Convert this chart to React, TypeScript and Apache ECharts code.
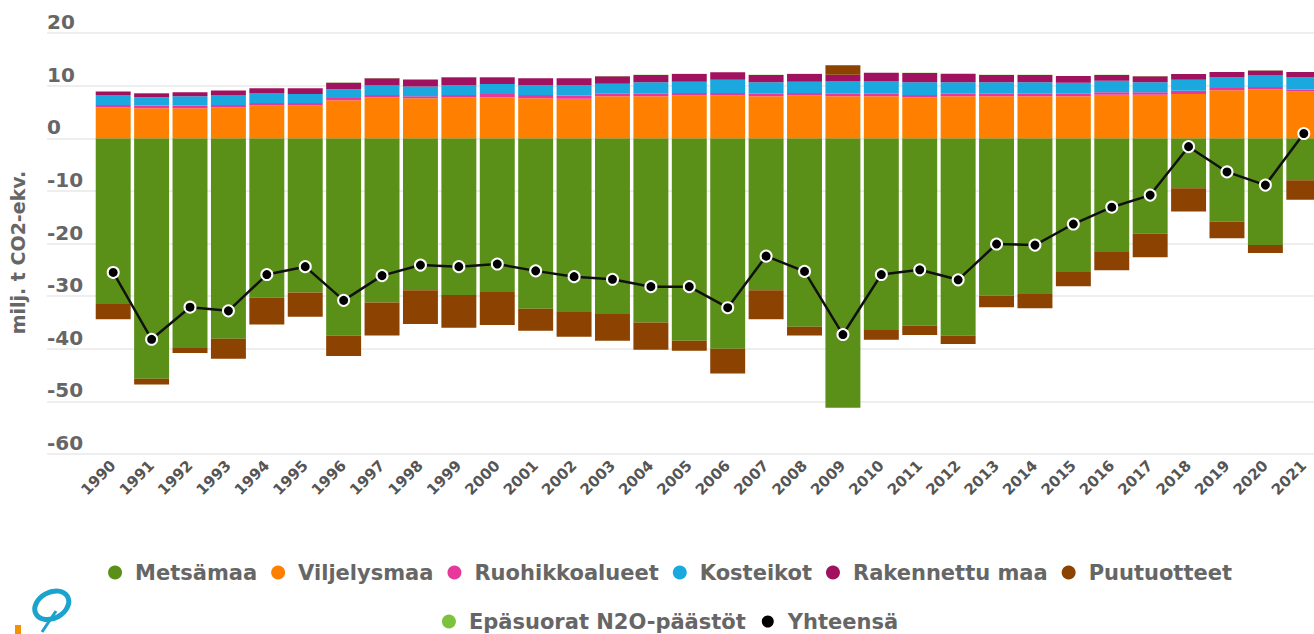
import { useEffect, useRef } from "react";
import * as echarts from "echarts";

const years = ["1990","1991","1992","1993","1994","1995","1996","1997","1998","1999","2000","2001","2002","2003","2004","2005","2006","2007","2008","2009","2010","2011","2012","2013","2014","2015","2016","2017","2018","2019","2020","2021"];

const metsamaa = [-31.5,-45.7,-39.7,-38.1,-30.3,-29.3,-37.5,-31.2,-28.9,-29.8,-29.2,-32.4,-33.0,-33.4,-35.0,-38.5,-40.0,-28.9,-35.8,-51.2,-36.3,-35.6,-37.5,-29.9,-29.6,-25.4,-21.6,-18.1,-9.5,-15.8,-20.3,-8.0];
const viljelysmaa = [5.9,5.7,5.7,5.9,6.2,6.2,7.2,7.8,7.6,7.8,7.8,7.6,7.5,8.0,8.0,8.1,8.1,8.0,8.1,8.0,8.0,7.8,8.0,8.0,8.0,8.0,8.25,8.25,8.4,9.1,9.3,8.9];
const ruohikkoalueet = [0.44,0.5,0.5,0.44,0.5,0.5,0.44,0.44,0.38,0.44,0.63,0.63,0.63,0.44,0.44,0.5,0.5,0.44,0.5,0.44,0.44,0.44,0.44,0.44,0.44,0.44,0.5,0.5,0.63,0.44,0.44,0.38];
const kosteikot = [1.9,1.6,1.78,1.9,1.9,1.7,1.65,1.78,1.84,1.9,1.9,1.9,2.0,1.9,2.2,2.16,2.54,2.2,2.16,2.35,2.35,2.4,2.2,2.2,2.2,2.1,2.2,1.9,2.1,2.1,2.2,2.35];
const rakennettuMaa = [0.63,0.76,0.76,0.83,0.9,1.08,1.27,1.4,1.33,1.46,1.27,1.27,1.27,1.46,1.4,1.46,1.4,1.4,1.46,1.27,1.65,1.78,1.6,1.4,1.4,1.27,1.08,1.14,1.08,0.95,0.95,0.95];
const puutuotteet = [-2.9,-1.1,-1.1,-3.8,-5.1,-4.6,-3.9,-6.3,-6.4,-6.2,-6.3,-4.2,-4.7,-5.1,-5.2,-1.9,-4.7,-5.5,-1.7,1.8,-2.0,-1.8,-1.6,-2.2,-2.7,-2.7,-3.5,-4.5,-4.4,-3.2,-1.5,-3.7];
const epasuorat = [0.02,0.02,0.02,0.02,0.02,0.02,0.02,0.02,0.02,0.02,0.02,0.02,0.02,0.02,0.02,0.02,0.02,0.02,0.02,0.02,0.02,0.02,0.02,0.02,0.02,0.02,0.02,0.02,0.02,0.02,0.02,0.02];
const yhteensa = [-25.5,-38.2,-32.1,-32.8,-25.9,-24.4,-30.8,-26.1,-24.1,-24.4,-23.9,-25.2,-26.3,-26.8,-28.2,-28.2,-32.2,-22.4,-25.3,-37.3,-25.9,-25.0,-26.9,-20.1,-20.3,-16.3,-13.1,-10.8,-1.6,-6.4,-8.9,0.9];

const FONT = "DejaVu Sans";
const TEXT = "#666";

const barSeries = [
  { name: "Metsämaa", data: metsamaa, color: "#5a9018" },
  { name: "Viljelysmaa", data: viljelysmaa, color: "#ff8000" },
  { name: "Ruohikkoalueet", data: ruohikkoalueet, color: "#e6399b" },
  { name: "Kosteikot", data: kosteikot, color: "#1ba8df" },
  { name: "Rakennettu maa", data: rakennettuMaa, color: "#a0125f" },
  { name: "Puutuotteet", data: puutuotteet, color: "#8c4200" },
  { name: "Epäsuorat N2O-päästöt", data: epasuorat, color: "#7ec13f" },
];

export default function App() {
  const ref = useRef<HTMLDivElement>(null);
  useEffect(() => {
    const chart = echarts.init(ref.current!, null, { renderer: "svg" });
    const legendText = { fontFamily: FONT, fontSize: 21, fontWeight: "bold", color: TEXT, padding: [0, 0, 0, 8] };
    chart.setOption({
      animation: false,
      backgroundColor: "#fff",
      textStyle: { fontFamily: FONT },
      grid: [
        { left: 94, right: 17, top: 33, bottom: 180 },
        { left: 42, right: 17, top: 33, bottom: 180 },
      ],
      xAxis: [
        {
          type: "category",
          gridIndex: 0,
          data: years,
          axisLine: { show: false },
          axisTick: { show: false },
          axisLabel: { interval: 0, rotate: 45, margin: 9, fontFamily: FONT, fontSize: 15, fontWeight: "bold", color: "#555" },
        },
        { type: "value", gridIndex: 1, show: false, min: 0, max: 1 },
      ],
      yAxis: [
        { type: "value", gridIndex: 0, min: -60, max: 20, interval: 10, show: false },
        {
          type: "value",
          gridIndex: 1,
          min: -60,
          max: 20,
          interval: 10,
          name: "milj. t CO2-ekv.",
          nameLocation: "middle",
          nameRotate: 90,
          nameGap: 20,
          nameTextStyle: { fontFamily: FONT, fontSize: 19, fontWeight: "bold", color: TEXT, padding: [0, 18, 0, 0] },
          axisLine: { show: false },
          axisTick: { show: false },
          splitLine: { lineStyle: { color: "#e8e8e8", width: 1.5 } },
          axisLabel: {
            inside: true,
            margin: 0,
            align: "left",
            verticalAlign: "bottom",
            padding: [0, 0, 1, 0],
            fontFamily: FONT,
            fontSize: 20,
            fontWeight: "bold",
            color: TEXT,
          },
        },
      ],
      legend: [
        {
          data: barSeries.slice(0, 6).map((s) => s.name),
          left: "center",
          top: 557,
          icon: "circle",
          itemWidth: 14,
          itemHeight: 14,
          itemGap: 14,
          textStyle: legendText,
        },
        {
          data: [barSeries[6].name, "Yhteensä"],
          left: "center",
          top: 606,
          icon: "circle",
          itemWidth: 14,
          itemHeight: 14,
          itemGap: 14,
          textStyle: legendText,
        },
      ],
      graphic: [
        {
          type: "ellipse",
          shape: { cx: 52, cy: 605, rx: 18, ry: 13 },
          rotation: 0.5,
          originX: 52,
          originY: 605,
          style: { fill: "none", stroke: "#1aa3cc", lineWidth: 5 },
        },
        { type: "line", shape: { x1: 42, y1: 632, x2: 56, y2: 611 }, style: { stroke: "#1aa3cc", lineWidth: 3 } },
        { type: "rect", shape: { x: 15, y: 625, width: 6, height: 12 }, style: { fill: "#f39200" } },
      ],
      series: [
        ...barSeries.map((s) => ({
          name: s.name,
          type: "bar",
          stack: "total",
          xAxisIndex: 0,
          yAxisIndex: 0,
          data: s.data,
          barCategoryGap: "9%",
          itemStyle: { color: s.color },
        })),
        {
          name: "Yhteensä",
          type: "line",
          xAxisIndex: 0,
          yAxisIndex: 0,
          data: yhteensa,
          z: 10,
          symbol: "circle",
          symbolSize: 11,
          color: "#000",
          lineStyle: { color: "#111", width: 2.5 },
          itemStyle: { color: "#000", borderColor: "#fff", borderWidth: 2 },
        },
      ],
    });
    return () => chart.dispose();
  }, []);
  return (
    <div style={{ position: "fixed", left: 0, top: 0, width: 1314, height: 634, overflow: "hidden", background: "#fff" }}>
      <div ref={ref} style={{ width: 1340, height: 634 }} />
    </div>
  );
}
